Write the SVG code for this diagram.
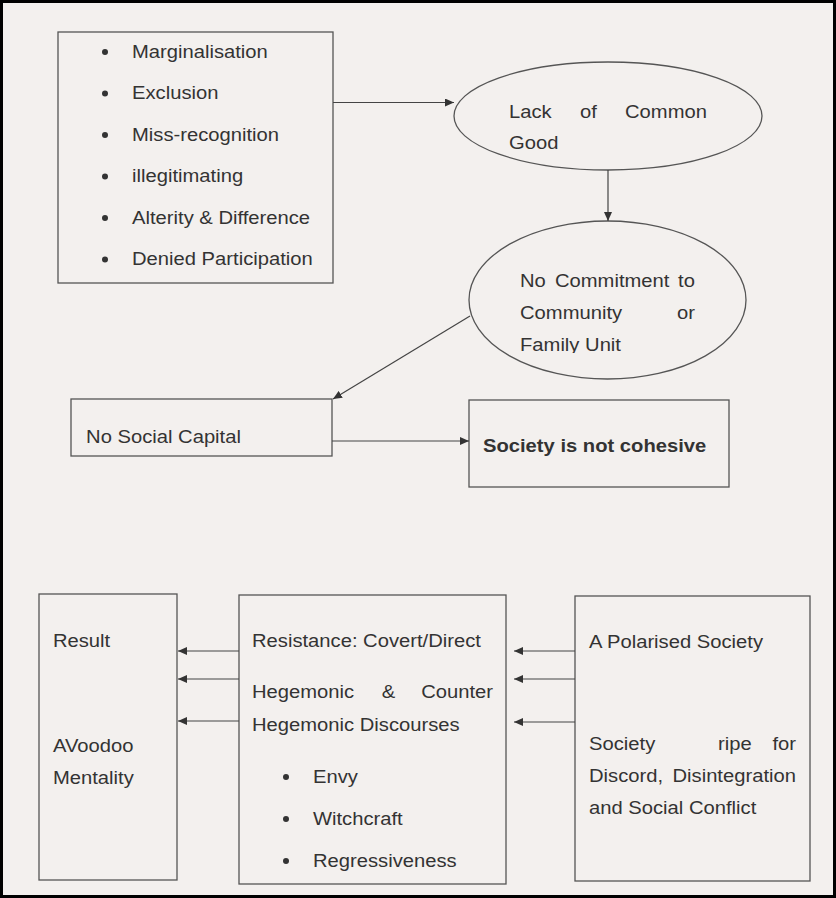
<svg xmlns="http://www.w3.org/2000/svg" width="836" height="898" viewBox="0 0 836 898">
  <style>
    .bg { fill: #f3f0ee; }
    .frame { fill: none; stroke: #000; stroke-width: 3; }
    .box { fill: none; stroke: #555; stroke-width: 1.3; }
    .edge { fill: none; stroke: #444; stroke-width: 1.2; marker-end: url(#arrow); }
    .t { font-family: "Liberation Sans", Arial, sans-serif; font-size: 18.5px; fill: #333; }
    .b { font-weight: bold; }
    .end { text-anchor: end; }
    .dot { fill: #333; }
  </style>
  <defs>
    <marker id="arrow" markerUnits="userSpaceOnUse" markerWidth="10" markerHeight="8" refX="9" refY="4" orient="auto">
      <path d="M0,0 L9,4 L0,8 z" fill="#333"/>
    </marker>
    <clipPath id="clipUnit" clipPathUnits="userSpaceOnUse">
      <rect x="0" y="0" width="836" height="353"/>
    </clipPath>
  </defs>

  <rect class="bg" x="0" y="0" width="836" height="898"/>
  <rect class="frame" x="1.5" y="1.5" width="833" height="895"/>

  <!-- causes list -->
  <g id="causes">
    <rect class="box" x="58" y="32" width="275" height="251"/>
    <circle class="dot" cx="105" cy="52" r="3"/>
    <circle class="dot" cx="105" cy="93.5" r="3"/>
    <circle class="dot" cx="105" cy="135" r="3"/>
    <circle class="dot" cx="105" cy="176.5" r="3"/>
    <circle class="dot" cx="105" cy="218" r="3"/>
    <circle class="dot" cx="105" cy="259.5" r="3"/>
    <g transform="scale(1.092,1)">
      <text class="t" x="120.9" y="58">Marginalisation</text>
      <text class="t" x="120.9" y="99.5">Exclusion</text>
      <text class="t" x="120.9" y="141">Miss-recognition</text>
      <text class="t" x="120.9" y="182.5">illegitimating</text>
      <text class="t" x="120.9" y="224">Alterity &amp; Difference</text>
      <text class="t" x="120.9" y="265.5">Denied Participation</text>
    </g>
  </g>

  <!-- lack of common good -->
  <g id="commonGood">
    <ellipse class="box" cx="608" cy="116" rx="154" ry="54"/>
    <g transform="scale(1.092,1)">
      <text class="t" x="466.1" y="118">Lack</text>
      <text class="t" x="531.1" y="118">of</text>
      <text class="t end" x="647.4" y="118">Common</text>
      <text class="t" x="466.1" y="149">Good</text>
    </g>
  </g>

  <!-- no commitment -->
  <g id="commitment">
    <ellipse class="box" cx="607.5" cy="300" rx="138.5" ry="79"/>
    <g transform="scale(1.092,1)">
      <text class="t" x="476.2" y="287">No</text>
      <text class="t" x="508.2" y="287">Commitment</text>
      <text class="t end" x="636.4" y="287">to</text>
      <text class="t" x="476.2" y="319">Community</text>
      <text class="t end" x="636.4" y="319">or</text>
      <text class="t" x="476.2" y="351" clip-path="url(#clipUnit)">Family Unit</text>
    </g>
  </g>

  <!-- social capital -->
  <g id="socialCapital">
    <rect class="box" x="71" y="399" width="261" height="57"/>
    <g transform="scale(1.092,1)">
      <text class="t" x="78.8" y="443">No Social Capital</text>
    </g>
  </g>

  <!-- not cohesive -->
  <g id="notCohesive">
    <rect class="box" x="469" y="400" width="260" height="87"/>
    <g transform="scale(1.092,1)">
      <text class="t b" x="442.3" y="452">Society is not cohesive</text>
    </g>
  </g>

  <!-- result -->
  <g id="result">
    <rect class="box" x="39" y="594" width="138" height="286"/>
    <g transform="scale(1.092,1)">
      <text class="t" x="48.5" y="647">Result</text>
      <text class="t" x="48.5" y="752">AVoodoo</text>
      <text class="t" x="48.5" y="784">Mentality</text>
    </g>
  </g>

  <!-- resistance -->
  <g id="resistance">
    <rect class="box" x="239" y="595" width="267" height="289"/>
    <circle class="dot" cx="286" cy="777" r="3"/>
    <circle class="dot" cx="286" cy="819" r="3"/>
    <circle class="dot" cx="286" cy="861" r="3"/>
    <g transform="scale(1.092,1)">
      <text class="t" x="230.8" y="647">Resistance: Covert/Direct</text>
      <text class="t" x="230.8" y="698">Hegemonic</text>
      <text class="t" x="349.5" y="698">&amp;</text>
      <text class="t end" x="451.5" y="698">Counter</text>
      <text class="t" x="230.8" y="731">Hegemonic Discourses</text>
      <text class="t" x="286.6" y="783">Envy</text>
      <text class="t" x="286.6" y="825">Witchcraft</text>
      <text class="t" x="286.6" y="867">Regressiveness</text>
    </g>
  </g>

  <!-- polarised society -->
  <g id="polarised">
    <rect class="box" x="575" y="596" width="235" height="285"/>
    <g transform="scale(1.092,1)">
      <text class="t" x="539.4" y="648">A Polarised Society</text>
      <text class="t" x="539.4" y="750">Society</text>
      <text class="t" x="657.5" y="750">ripe</text>
      <text class="t end" x="728.9" y="750">for</text>
      <text class="t" x="539.4" y="782">Discord,</text>
      <text class="t end" x="728.9" y="782">Disintegration</text>
      <text class="t" x="539.4" y="814">and Social Conflict</text>
    </g>
  </g>

  <!-- connectors -->
  <g id="connectors">
    <line class="edge" x1="333" y1="102.5" x2="454" y2="102.5"/>
    <line class="edge" x1="608" y1="170" x2="608" y2="221"/>
    <line class="edge" x1="470" y1="316" x2="333" y2="399"/>
    <line class="edge" x1="332" y1="441" x2="469" y2="441"/>
    <line class="edge" x1="239" y1="651" x2="178" y2="651"/>
    <line class="edge" x1="239" y1="679" x2="178" y2="679"/>
    <line class="edge" x1="239" y1="721" x2="178" y2="721"/>
    <line class="edge" x1="575" y1="651" x2="514" y2="651"/>
    <line class="edge" x1="575" y1="679" x2="514" y2="679"/>
    <line class="edge" x1="575" y1="722" x2="514" y2="722"/>
  </g>
</svg>
